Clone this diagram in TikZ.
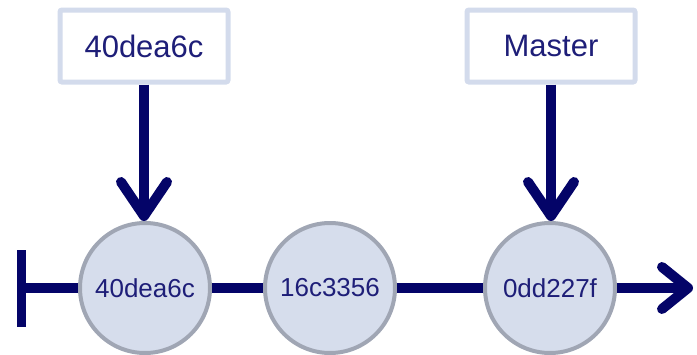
\documentclass[tikz,border=0pt]{standalone}
\usepackage{fontspec}
\setmainfont{Liberation Sans}
\usetikzlibrary{arrows.meta}
\definecolor{navy}{RGB}{4,4,104}
\definecolor{txtnavy}{RGB}{30,30,120}
\definecolor{boxborder}{RGB}{211,219,236}
\definecolor{cfill}{RGB}{214,221,236}
\definecolor{cborder}{RGB}{160,166,180}
\tikzset{
  x=1pt, y=-1pt,
  refbox/.style={draw=boxborder, line width=5pt, fill=white, rounded corners=2pt,
    minimum width=168pt, minimum height=72pt, inner sep=0pt,
    font=\fontsize{31}{36}\selectfont, text=txtnavy},
  commit/.style={circle, draw=cborder, line width=4pt, fill=cfill,
    minimum size=130pt, inner sep=0pt,
    font=\fontsize{26}{30}\selectfont, text=txtnavy},
  link/.style={draw=navy, line width=10pt},
  ptr/.style={link, -{Straight Barb[length=34pt,width=46pt,round,line width=10pt]}},
}
\begin{document}
\begin{tikzpicture}
\useasboundingbox (0,0) rectangle (697,354);
\node[refbox] (b1) at (144,46) {40dea6c};
\node[refbox] (b2) at (551,46) {Master};
\node[commit] (c1) at (145,288) {40dea6c};
\node[commit] (c2) at (330,288) {16c3356};
\node[commit] (c3) at (550,288) {0dd227f};
\coordinate (start) at (17,288);
\coordinate (end) at (693,288);
\draw[link, {Bar[width=77pt,line width=9pt]}-] (start) -- (c1);
\draw[link] (c1) -- (c2);
\draw[link] (c2) -- (c3);
\draw[link, -{Straight Barb[length=26pt,width=42pt,round,line width=10pt]}] (c3) -- (end);
\draw[ptr] (b1.south) -- (b1.south |- c1.north);
\draw[ptr] (b2.south) -- (b2.south |- c3.north);
\end{tikzpicture}
\end{document}
